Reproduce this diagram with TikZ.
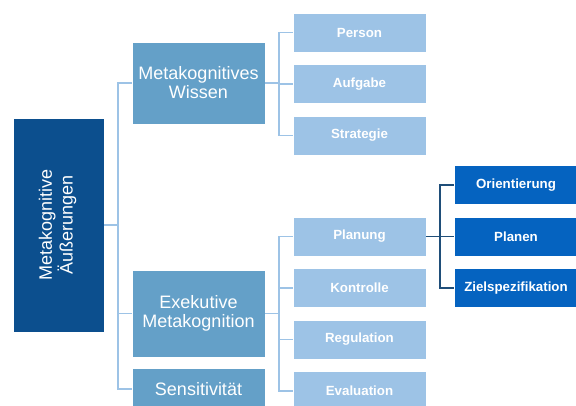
\documentclass[tikz,border=0pt]{standalone}
\usepackage{fontspec}
\setmainfont{Liberation Sans}
\usepackage{graphicx}
\usetikzlibrary{positioning}
\definecolor{rootblue}{RGB}{12,79,142}
\definecolor{catblue}{RGB}{100,160,200}
\definecolor{subblue}{RGB}{157,195,230}
\definecolor{leafblue}{RGB}{5,99,192}
\definecolor{linkdark}{RGB}{31,78,121}
\tikzset{
  box/.style={draw=white,line width=0.5pt,text=white,inner sep=2pt,align=center},
  rootbox/.style={box,fill=rootblue,minimum width=91pt,minimum height=214pt,
    font=\fontsize{18}{19}\selectfont},
  catbox/.style={box,fill=catblue,minimum width=133pt,
    font=\fontsize{18}{19}\selectfont},
  subbox/.style={box,fill=subblue,minimum width=133pt,minimum height=39pt,
    font=\fontsize{13.3}{15}\selectfont\bfseries},
  leafbox/.style={box,fill=leafblue,minimum width=124pt,minimum height=39pt,
    font=\fontsize{13.3}{15}\selectfont\bfseries},
  link/.style={draw=subblue,line width=1.8pt},
  darklink/.style={draw=linkdark,line width=1.8pt},
}
\begin{document}
\begin{tikzpicture}[x=1pt,y=1pt,node distance=12pt]
  \useasboundingbox (0,0) rectangle (576,-406);
  % main box and the three categories
  \node[rootbox] (root) at (58.5,-225)
    {\rotatebox{90}{\begin{tabular}{@{}c@{}}Metakognitive\\Äußerungen\end{tabular}}};
  \node[catbox,minimum height=82pt] (wissen) at (198.5,-83) {Metakognitives\\Wissen};
  \node[catbox,minimum height=87pt] (exek) at (198.5,-313.5) {Exekutive\\Metakognition};
  \node[catbox,minimum height=42pt] (sens) at (198.5,-389) {Sensitivität};
  % knowledge
  \node[subbox] (person) at (359.5,-32.5) {Person};
  \node[subbox,below=of person] (aufgabe) {Aufgabe};
  \node[subbox,below=of aufgabe] (strategie) {Strategie};
  % executive
  \node[subbox] (planung) at (359.5,-236.5) {Planung};
  \node[subbox,below=of planung] (kontrolle) {Kontrolle};
  \node[subbox,below=of kontrolle] (regulation) {Regulation};
  \node[subbox,below=of regulation] (evaluation) {Evaluation};
  % planning
  \node[leafbox] (planen) at (516,-236.5) {Planen};
  \node[leafbox,above=of planen] (orient) {Orientierung};
  \node[leafbox,below=of planen] (ziel) {Zielspezifikation};
  \foreach \n in {wissen,exek,sens} \draw[link] (root.east) -- ++(14,0) |- (\n.west);
  \foreach \n in {person,aufgabe,strategie} \draw[link] (wissen.east) -- ++(14,0) |- (\n.west);
  \foreach \n in {planung,kontrolle,regulation,evaluation}
    \draw[link] (exek.east) -- ++(14,0) |- (\n.west);
  \foreach \n in {orient,planen,ziel} \draw[darklink] (planung.east) -- ++(14,0) |- (\n.west);
\end{tikzpicture}
\end{document}
